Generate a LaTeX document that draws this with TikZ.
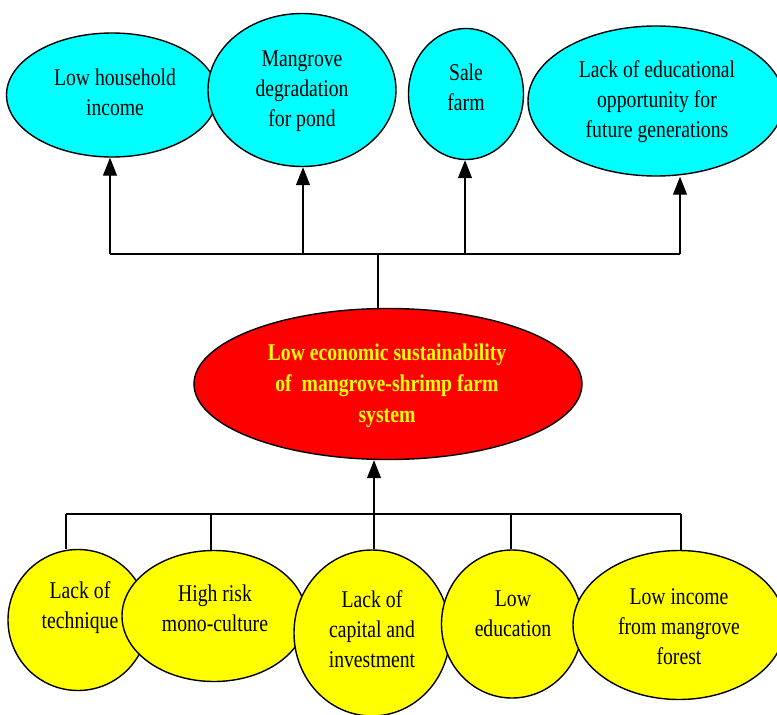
\documentclass[tikz,border=0pt]{standalone}
\usepackage{fontspec}
\newfontfamily\diafont[FakeStretch=0.82]{Liberation Serif}
\usetikzlibrary{shapes.geometric,arrows.meta}
\definecolor{cyanfill}{RGB}{0,255,255}
\definecolor{redfill}{RGB}{255,0,0}
\definecolor{yellowfill}{RGB}{255,255,0}
\tikzset{
  oval/.style={ellipse, draw=black, line width=1.4pt, inner sep=0pt},
  topoval/.style={oval, fill=cyanfill},
  midoval/.style={oval, fill=redfill},
  botoval/.style={oval, fill=yellowfill},
  txt/.style={align=center, inner sep=0pt, font=\diafont\fontsize{24}{30}\selectfont},
  boldtxt/.style={align=center, inner sep=0pt, text=yellowfill, font=\diafont\bfseries\fontsize{24}{31}\selectfont},
  wire/.style={line width=1.3pt},
  arr/.style={line width=1.3pt, -{Triangle[length=18pt,width=14pt]}}
}
\begin{document}
\begin{tikzpicture}[x=1pt,y=-1pt]
\useasboundingbox (0,0) rectangle (777,715);
% top ellipses
\node[topoval, minimum width=211, minimum height=124] (e1) at (112,95) {};
\node[txt] (e1t) at (115,92) {Low household\\income};
\node[topoval, minimum width=188, minimum height=153] (e2) at (302,90) {};
\node[txt] (e2t) at (302,91) {Mangrove\\degradation\\for pond};
\node[topoval, minimum width=115, minimum height=131] (e3) at (466,94) {};
\node[txt] (e3t) at (466,87) {Sale\\farm};
\node[topoval, minimum width=256, minimum height=150] (e4) at (656,101) {};
\node[txt] (e4t) at (657,102) {Lack of educational\\opportunity for\\future generations};
% central
\node[midoval, minimum width=388, minimum height=151] (c) at (388,384) {};
\node[boldtxt] (ct) at (387,386) {Low economic sustainability\\of\ \ mangrove-shrimp farm\\system};
% bottom ellipses
\node[botoval, minimum width=140, minimum height=141] (b1) at (78,620) {};
\node[txt] (b1t) at (80,608) {Lack of\\technique};
\node[botoval, minimum width=184, minimum height=131] (b2) at (214,616) {};
\node[txt] (b2t) at (215,608) {High risk\\mono-culture};
\node[botoval, minimum width=156, minimum height=166] (b3) at (372,633) {};
\node[txt] (b3t) at (372,629) {Lack of\\capital and\\investment};
\node[botoval, minimum width=141, minimum height=148] (b4) at (512,624) {};
\node[txt] (b4t) at (513,614) {Low\\education};
\node[botoval, minimum width=212, minimum height=149] (b5) at (679,625) {};
\node[txt] (b5t) at (679,627) {Low income\\from mangrove\\forest};
% top bus
\coordinate (tc) at (378,254);
\coordinate (t1) at (110,254);
\coordinate (t2) at (303,254);
\coordinate (t3) at (465,254);
\coordinate (t4) at (680,254);
\draw[wire] (tc) -- (tc |- c.north);
\draw[wire] (t1) -- (t4);
\draw[arr] (t1) -- (t1 |- e1.south);
\draw[arr] (t2) -- (t2 |- e2.south);
\draw[arr] (t3) -- (t3 |- e3.south);
\draw[arr] (t4) -- (t4 |- e4.south);
% bottom bus
\coordinate (u1) at (66,514);
\coordinate (u2) at (211,514);
\coordinate (u3) at (374,514);
\coordinate (u4) at (511,514);
\coordinate (u5) at (681,514);
\draw[wire] (u1) -- (u5);
\draw[arr] (u3) -- (u3 |- c.south);
\draw[wire] (u1) -- (u1 |- b1.north);
\draw[wire] (u2) -- (u2 |- b2.north);
\draw[wire] (u3) -- (u3 |- b3.north);
\draw[wire] (u4) -- (u4 |- b4.north);
\draw[wire] (u5) -- (u5 |- b5.north);
\end{tikzpicture}
\end{document}
